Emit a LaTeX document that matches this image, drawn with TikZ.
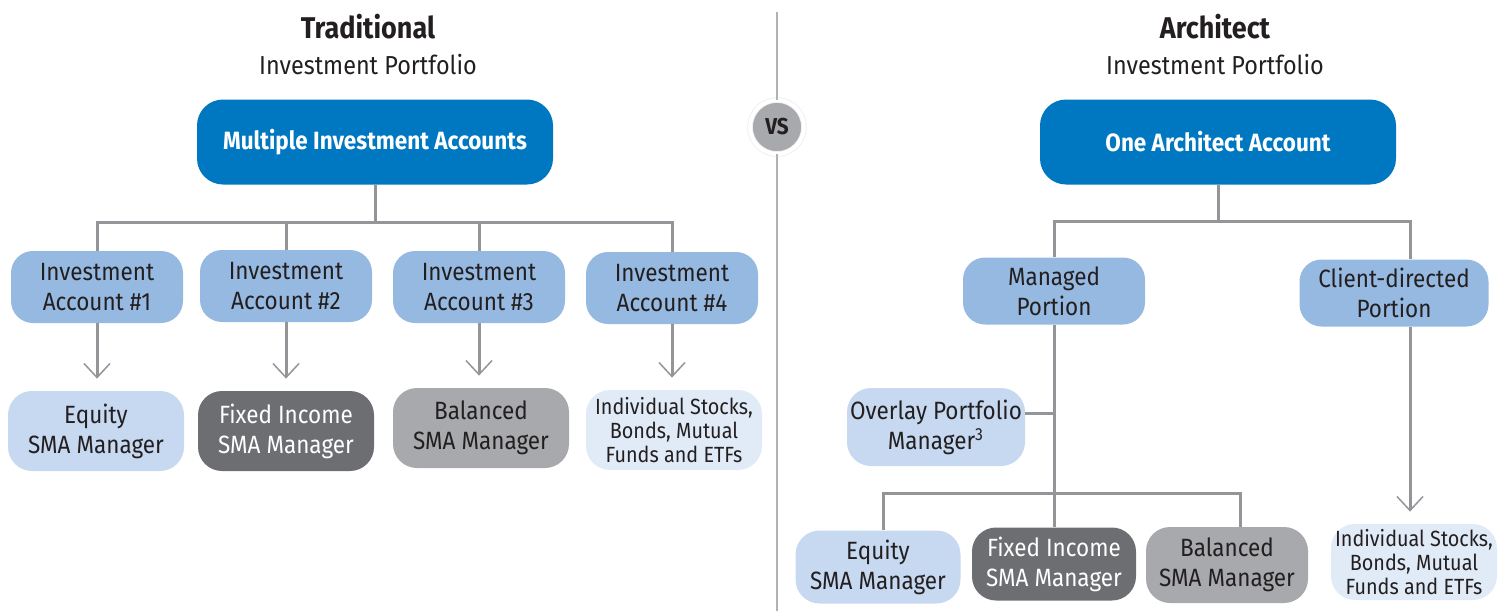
\documentclass[tikz,border=0pt]{standalone}
\usepackage{fontspec}
\setmainfont{Fira Sans}[FakeStretch=0.9]
\usetikzlibrary{arrows.meta, positioning}
\definecolor{darkblue}{HTML}{0077C1}
\definecolor{midblue}{HTML}{96B9E1}
\definecolor{lightblue}{HTML}{C6D9F1}
\definecolor{paleblue}{HTML}{E1EBF7}
\definecolor{darkgray}{HTML}{6D6E71}
\definecolor{midgray}{HTML}{A7A9AC}
\definecolor{linegray}{HTML}{939598}
\definecolor{textblack}{HTML}{231F20}

\begin{document}
\begin{tikzpicture}[x=0.5pt, y=-0.5pt,
    every node/.style={text=textblack, align=center, inner sep=0pt},
    topbox/.style={rounded corners=13pt, fill=darkblue, text=white, minimum width=178pt, minimum height=42.5pt, font=\bfseries\fontsize{12.5}{15}\selectfont},
    acc/.style={rounded corners=11pt, fill=midblue, minimum width=86pt, minimum height=36pt, font=\fontsize{12.5}{15}\selectfont},
    leaf/.style={rounded corners=12pt, minimum width=88pt, minimum height=40pt, font=\fontsize{12.5}{15}\selectfont},
    conn/.style={draw=linegray, line width=1.5pt},
    arr/.style={conn, -{Straight Barb[length=7pt, width=13pt, line width=0.75pt]}},
    title/.style={font=\bfseries\fontsize{15}{18}\selectfont},
    subtitle/.style={font=\fontsize{13}{16}\selectfont}]
  \useasboundingbox (0,0) rectangle (1506,611);

  % separator
  \node[circle, fill=midgray, draw=black!7, double=white, double distance=2pt, minimum size=27pt, font=\bfseries\fontsize{11.5}{13}\selectfont] (vs) at (777,127) {VS};
  \draw[draw=black!30, line width=0.75pt] (777,12) -- (vs.north);
  \draw[draw=black!30, line width=0.75pt] (vs.south) -- (777,611);

  % traditional
  \node[title] (tradT) at (368,27) {Traditional};
  \node[subtitle] (tradS) at (368,65) {Investment Portfolio};
  \node[topbox] (multi) at (375,142) {Multiple Investment Accounts};

  \node[acc] (acc1) at (97,287) {Investment\\Account \#1};
  \node[acc] (acc2) at (286,286) {Investment\\Account \#2};
  \node[acc] (acc3) at (479,287) {Investment\\Account \#3};
  \node[acc] (acc4) at (672,288) {Investment\\Account \#4};

  \node[leaf, fill=lightblue] (eq1) at (96,431) {Equity\\SMA Manager};
  \node[leaf, fill=darkgray, text=white] (fi1) at (286,431) {Fixed Income\\SMA Manager};
  \node[leaf, fill=midgray] (bal1) at (481,428) {Balanced\\SMA Manager};
  \node[leaf, fill=paleblue, font=\fontsize{11}{11.8}\selectfont] (ind1) at (674,430) {Individual Stocks,\\Bonds, Mutual\\Funds and ETFs};

  \draw[conn] (multi.south) -- ++(0,38) -| (acc1.north);
  \draw[conn] (multi.south) -- ++(0,38) -| (acc2.north);
  \draw[conn] (multi.south) -- ++(0,38) -| (acc3.north);
  \draw[conn] (multi.south) -- ++(0,38) -| (acc4.north);

  \draw[arr] (acc1.south) -- ([yshift=6pt]acc1.south |- eq1.north);
  \draw[arr] (acc2.south) -- ([yshift=6pt]acc2.south |- fi1.north);
  \draw[arr] (acc3.south) -- ([yshift=6pt]acc3.south |- bal1.north);
  \draw[arr] (acc4.south) -- ([yshift=6pt]acc4.south |- ind1.north);

  % architect
  \node[title] (archT) at (1215,27) {Architect};
  \node[subtitle] (archS) at (1215,65) {Investment Portfolio};
  \node[topbox] (arch) at (1218,142) {One Architect Account};

  \node[acc, minimum width=91pt, minimum height=33.5pt] (managed) at (1054,291) {Managed\\Portion};
  \node[acc, minimum width=94.5pt, minimum height=33.5pt] (client) at (1394,293) {Client-directed\\Portion};
  \coordinate (cd) at (1410,0);

  \node[leaf, fill=lightblue, minimum width=89pt, minimum height=39pt] (overlay) at (936,427) {Overlay Portfolio\\Manager\textsuperscript{3}};

  \node[leaf, fill=lightblue, minimum width=82.5pt, minimum height=36.5pt] (eq2) at (878,567) {Equity\\SMA Manager};
  \node[leaf, fill=darkgray, text=white, minimum width=82pt, minimum height=36.5pt] (fi2) at (1054,564) {Fixed Income\\SMA Manager};
  \node[leaf, fill=midgray, minimum width=81pt, minimum height=38pt] (bal2) at (1227,565) {Balanced\\SMA Manager};
  \node[leaf, fill=paleblue, minimum width=83pt, minimum height=38pt, font=\fontsize{11}{11.8}\selectfont] (ind2) at (1414,562) {Individual Stocks,\\Bonds, Mutual\\Funds and ETFs};
  \coordinate (sub) at (1054,493);

  \draw[conn] (arch.south) -- ++(0,37) -| (managed.north);
  \draw[conn] (arch.south) -- ++(0,37) -| (client.north -| cd);
  \draw[conn] (managed.south) -- (fi2.north);
  \draw[conn] ([yshift=7pt]overlay.east) -- ([yshift=7pt]overlay.east -| managed.south);
  \draw[conn] ([xshift=2.5pt]eq2.north) |- (sub) -| ([xshift=6.5pt]bal2.north);
  \draw[arr] (client.south -| cd) -- ([yshift=6pt]ind2.north -| cd);
\end{tikzpicture}
\end{document}
